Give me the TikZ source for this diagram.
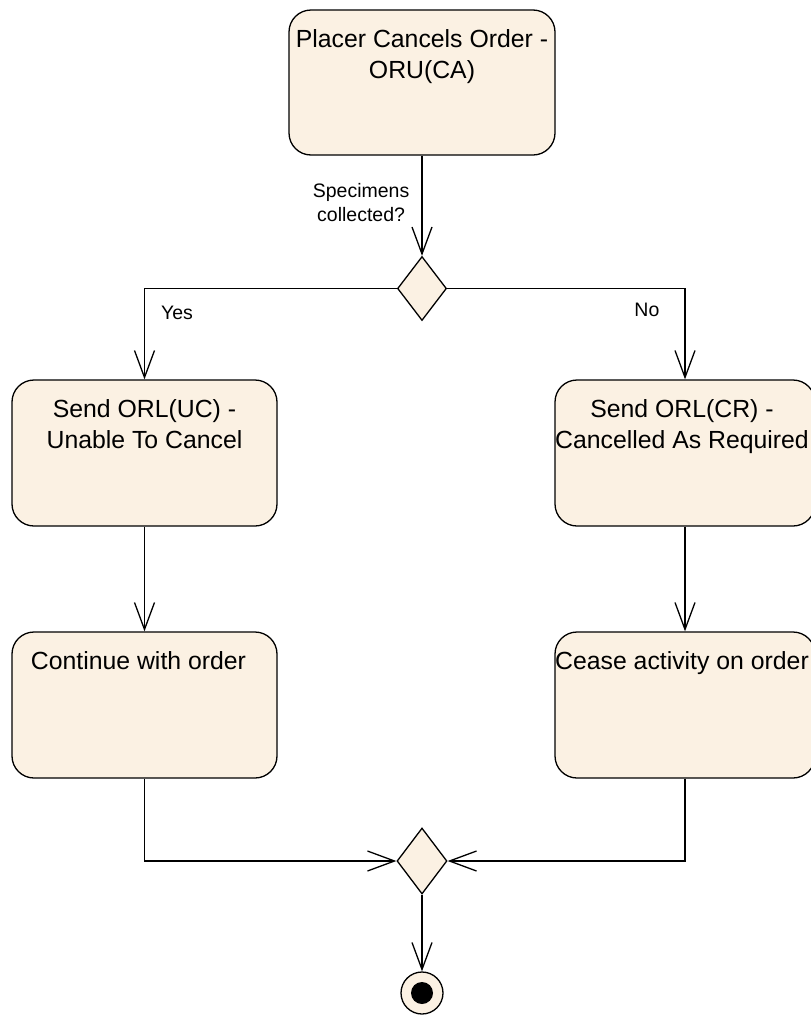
\documentclass[tikz,border=0pt]{standalone}
\usepackage{fontspec}
\setmainfont{Liberation Sans}
\usetikzlibrary{shapes.geometric,arrows.meta}
\definecolor{actfill}{RGB}{251,241,227}
\begin{document}
\begin{tikzpicture}[x=1pt,y=-1pt,
  line width=1.3pt,
  action/.style={draw, fill=actfill, rounded corners=22pt, minimum height=146pt, inner sep=0pt},
  acttext/.style={font=\fontsize{24.8}{31}\selectfont, align=center, inner sep=0pt, anchor=north, yshift=-20pt},
  decision/.style={draw, fill=actfill, diamond, inner sep=0pt, minimum width=49pt, minimum height=64pt},
  flow/.style={-{Straight Barb[length=27pt,width=20pt,line width=1.3pt]}},
  guard/.style={font=\fontsize{19.5}{24.5}\selectfont, inner sep=0pt, align=center}]
  \useasboundingbox (0,0) rectangle (811,1015);

  % actions
  \node[action, minimum width=266pt, minimum height=145pt,
        label={[acttext]north:{Placer Cancels Order -\\ORU(CA)}}] (start) at (422,82.5) {};
  \node[action, minimum width=265pt,
        label={[acttext]north:{Send ORL(UC) -\\Unable To Cancel}}] (yes1) at (144.5,453) {};
  \node[action, minimum width=260pt,
        label={[acttext, xshift=-3pt]north:{Send ORL(CR) -\\Cancelled As Required}}] (no1) at (685,453) {};
  \node[action, minimum width=265pt,
        label={[acttext, xshift=-6pt]north:{Continue with order}}] (yes2) at (144.5,705) {};
  \node[action, minimum width=260pt,
        label={[acttext, xshift=-3pt]north:{Cease activity on order}}] (no2) at (685,705) {};

  % decision and merge
  \node[decision] (d1) at (422,288.5) {};
  \node[decision, minimum width=50pt, minimum height=66pt] (d2) at (422,861) {};

  % final node
  \node[circle, draw, fill=actfill, minimum size=42pt, inner sep=0pt,
        path picture={\fill[black] (path picture bounding box.center) circle (11pt);}] (end) at (422,993) {};

  % flows
  \draw[flow] (start) -- node[guard, pos=0.468, anchor=east, xshift=-12pt] (q) {Specimens\\collected?} (d1);
  \draw[flow] (d1.west) -| node[guard, pos=0.636, anchor=west, xshift=16pt] (yes) {Yes} (yes1.north);
  \draw[flow] (d1.east) -| node[guard, pos=0.617, anchor=east, xshift=-25pt] (no) {No} (no1.north);
  \draw[flow] (yes1) -- (yes2);
  \draw[flow] (no1) -- (no2);
  \draw[flow] (yes2.south) |- (d2.west);
  \draw[flow] (no2.south) |- (d2.east);
  \draw[flow] (d2) -- (end);
\end{tikzpicture}
\end{document}
